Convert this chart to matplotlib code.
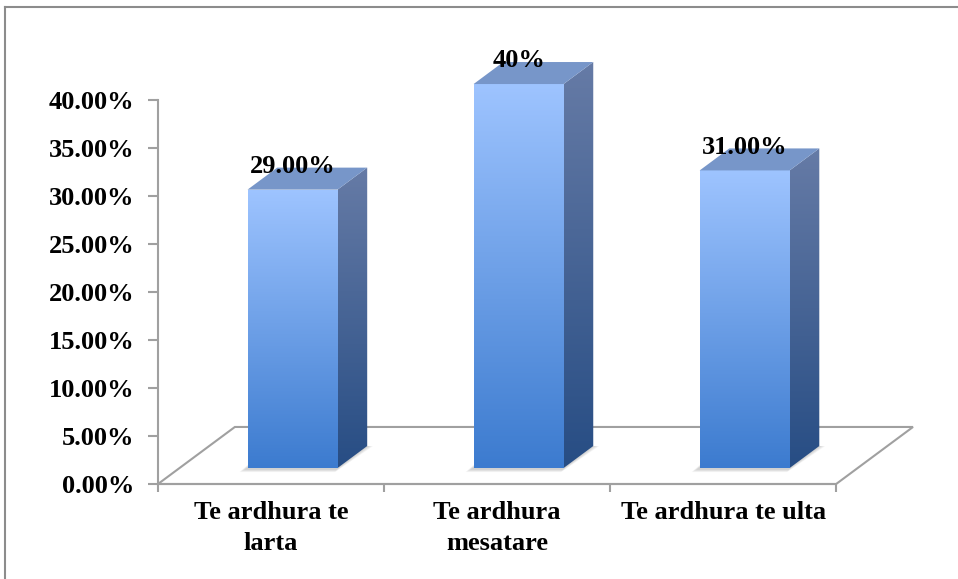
import numpy as np
import matplotlib.pyplot as plt
from matplotlib.patches import Polygon
from matplotlib.lines import Line2D
from matplotlib.colors import to_rgb

categories = ['Te ardhura te\nlarta', 'Te ardhura\nmesatare', 'Te ardhura te ulta']
values = [29.0, 40.0, 31.0]
value_labels = ['29.00%', '40%', '31.00%']
yticks = [0, 5, 10, 15, 20, 25, 30, 35, 40]

plt.rcParams['font.family'] = ['Liberation Serif', 'DejaVu Serif']
plt.rcParams['font.weight'] = 'bold'

fig = plt.figure(figsize=(9.58, 5.79), dpi=100)
W, H = 958, 579
ax = fig.add_axes([158 / W, (H - 484) / H, 755 / W, 444 / H])
ax.set_xlim(-0.5, 2.84)
ax.set_ylim(0, 46.25)

# 3d geometry in data units
floor_dx, floor_dy = 0.34, 5.94
bar_off = 0.28            # fraction of floor depth in front of bars
bar_depth = 0.386
bar_w = 0.398
fx, fy = floor_dx * bar_off, floor_dy * bar_off
dx, dy = floor_dx * bar_depth, floor_dy * bar_depth
px_x, px_y = 1 / 226, 1 / 9.6   # one pixel in data units

grid_col = '#A0A0A0'
fsize = 19

# floor outline
floor = Polygon([(-0.5, 0), (2.5, 0), (2.5 + floor_dx, floor_dy), (-0.5 + floor_dx, floor_dy)],
                closed=True, fill=False, edgecolor=grid_col, lw=1.5, zorder=1, clip_on=False)
ax.add_patch(floor)


def gradient_fill(poly_pts, top_col, bot_col, z):
    pts = np.array(poly_pts)
    x0, x1 = pts[:, 0].min(), pts[:, 0].max()
    y0, y1 = pts[:, 1].min(), pts[:, 1].max()
    t = np.linspace(0, 1, 256)[:, None]
    c0, c1 = np.array(to_rgb(bot_col)), np.array(to_rgb(top_col))
    img = (c0 + (c1 - c0) * t)[:, None, :]
    im = ax.imshow(img, extent=[x0, x1, y0, y1], origin='lower', aspect='auto',
                   interpolation='bilinear', zorder=z)
    clip = Polygon(pts, closed=True, transform=ax.transData, facecolor='none', edgecolor='none')
    ax.add_patch(clip)
    im.set_clip_path(clip)


for i, v in enumerate(values):
    xl = i + fx - bar_w / 2
    xr = xl + bar_w
    yb = fy
    yt = fy + v

    # soft shadow on the floor, offset down-left
    for k in range(1, 7):
        ox, oy = -(2 + k) * px_x, -(1 + k * 0.5) * px_y
        sh = Polygon([(xl + ox, yb + oy), (xr + ox * 0.3, yb + oy),
                      (xr + dx + k * px_x, yb + dy), (xl + dx + ox, yb + dy)],
                     closed=True, facecolor='#707070', edgecolor='none', alpha=0.06, zorder=2)
        ax.add_patch(sh)

    front = [(xl, yb), (xr, yb), (xr, yt), (xl, yt)]
    side = [(xr, yb), (xr + dx, yb + dy), (xr + dx, yt + dy), (xr, yt)]
    top = [(xl, yt), (xr, yt), (xr + dx, yt + dy), (xl + dx, yt + dy)]
    gradient_fill(front, '#9EC4FF', '#3C7BCF', 3)
    gradient_fill(side, '#667BA6', '#274D84', 3)
    ax.add_patch(Polygon(top, closed=True, facecolor='#7796C9', edgecolor='none', zorder=3))

    ax.text(i + fx, yt + 2.4, value_labels[i], ha='center', va='center',
            fontsize=fsize, fontweight='bold', zorder=5)

# axes styling
for s in ['top', 'right']:
    ax.spines[s].set_visible(False)
ax.spines['left'].set_bounds(0, 40)
ax.spines['bottom'].set_bounds(-0.5, 2.5)
for s in ['left', 'bottom']:
    ax.spines[s].set_color(grid_col)
    ax.spines[s].set_linewidth(1.5)

ax.set_yticks(yticks)
ax.set_yticklabels([f'{t:.2f}%' for t in yticks], fontsize=fsize, fontweight='bold')
ax.tick_params(axis='y', direction='out', length=7, width=1.5, color=grid_col, pad=10)

ax.set_xticks(range(len(categories)))
ax.set_xticklabels(categories, fontsize=fsize, fontweight='bold', linespacing=1.45)
ax.set_xticks([-0.5, 0.5, 1.5, 2.5], minor=True)
ax.tick_params(axis='x', which='major', length=0, pad=12)
ax.tick_params(axis='x', which='minor', direction='out', length=6, width=1.5, color=grid_col)

# chart border
fig.add_artist(Line2D([4.5 / W, 4.5 / W], [0, 1 - 7 / H], color='#8C8C8C', lw=1.5))
fig.add_artist(Line2D([4.5 / W, 1], [1 - 7 / H, 1 - 7 / H], color='#8C8C8C', lw=1.5))

fig.savefig('out.png', dpi=100)
